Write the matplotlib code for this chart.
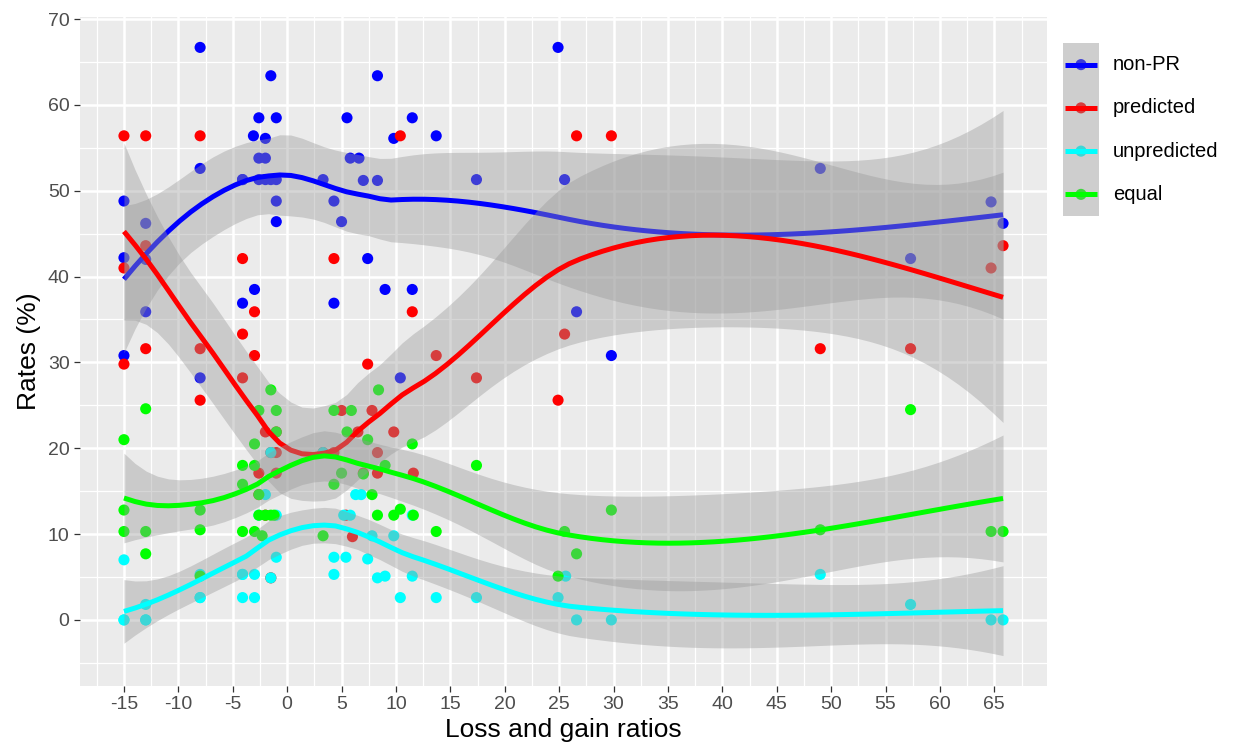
import numpy as np
import matplotlib
matplotlib.use("Agg")
import matplotlib.pyplot as plt
from matplotlib.patches import Rectangle

plt.rcParams["font.family"] = ["Liberation Sans", "DejaVu Sans"]
plt.rcParams["axes.unicode_minus"] = False

# ---------------------------------------------------------------- data
nonpr_x = [-15, -15, -15, -13, -13, -13, -8, -8, -8, -4.1, -4.1, -4.1, -3.1, -3.0,
           -2.6, -2.6, -2.6, -2.0, -2.0, -2.0, -1.5, -1.5, -1.0, -1.0, -1.0, -1.0,
           3.3, 4.3, 4.3, 5.0, 5.5, 5.8, 6.6, 7.0, 7.4, 8.3, 8.3, 9.0, 9.8,
           10.4, 11.5, 11.5, 13.7, 17.4, 24.9, 25.5, 26.6, 29.8, 49.0, 57.3,
           64.7, 65.8]
nonpr_y = [48.8, 42.2, 30.8, 46.2, 42.0, 35.9, 66.7, 52.6, 28.2, 51.3, 51.3, 36.9, 56.4, 38.5,
           58.5, 53.8, 51.3, 56.1, 53.8, 51.3, 63.4, 51.3, 58.5, 51.3, 48.8, 46.4,
           51.3, 48.8, 36.9, 46.4, 58.5, 53.8, 53.8, 51.2, 42.1, 63.4, 51.2, 38.5, 56.1,
           28.2, 58.5, 38.5, 56.4, 51.3, 66.7, 51.3, 35.9, 30.8, 52.6, 42.1,
           48.7, 46.2]

pred_x = [-15, -15, -15, -13, -13, -13, -8, -8, -8, -4.1, -4.1, -4.1,
          -3.0, -3.0, -2.6, -2.6, -2.0, -2.0, -1.5, -1.5, -1.0, -1.0, -1.0,
          3.3, 4.3, 4.3, 5.0, 5.4, 6.0, 6.5, 7.0, 7.4, 7.8,
          8.3, 8.3, 9.8, 10.4, 11.5, 11.6, 13.7, 17.4, 24.9, 25.5, 26.6, 29.8,
          49.0, 57.3, 64.7, 65.8]
pred_y = [56.4, 41.0, 29.8, 56.4, 43.6, 31.6, 56.4, 31.6, 25.6, 42.1, 33.3, 28.2,
          35.9, 30.8, 17.1, 14.6, 21.9, 12.2, 19.5, 4.9, 19.5, 17.1, 21.9,
          19.5, 42.1, 19.5, 24.4, 12.2, 9.7, 21.9, 17.1, 29.8, 24.4,
          19.5, 17.1, 21.9, 56.4, 35.9, 17.1, 30.8, 28.2, 25.6, 33.3, 56.4, 56.4,
          31.6, 31.6, 41.0, 43.6]

unpred_x = [-15, -15, -15, -13, -13, -13, -8, -8, -8, -4.1, -4.1, -4.1, -3.0, -3.0,
            -2.6, -2.0, -1.5, -1.5, -1.0, -1.0, 3.3, 4.3, 4.3, 5.2, 5.8, 5.4, 6.3,
            6.8, 7.4, 7.8, 8.3, 9.0, 9.8, 10.4, 11.5, 11.5, 13.7, 17.4, 24.9, 25.6,
            26.6, 29.8, 49.0, 57.3, 64.7, 65.8]
unpred_y = [7.0, 0.0, 0.0, 1.8, 0.0, 0.0, 2.6, 2.6, 5.3, 5.3, 5.3, 2.6, 5.3, 2.6,
            12.2, 14.6, 19.5, 4.9, 12.2, 7.3, 19.5, 7.3, 5.3, 12.2, 12.2, 7.3, 14.6,
            14.6, 7.1, 9.8, 4.9, 5.1, 9.8, 2.6, 5.1, 12.2, 2.6, 2.6, 2.6, 5.1,
            0.0, 0.0, 5.3, 1.8, 0.0, 0.0]

equal_x = [-15, -15, -15, -13, -13, -13, -8, -8, -8, -4.1, -4.1, -4.1,
           -3.0, -3.0, -3.0, -2.6, -2.6, -2.6, -2.3, -2.0, -1.5, -1.5,
           -1.0, -1.0, -1.2, 3.3, 4.3, 4.3, 5.0, 5.5, 5.9, 7.0, 7.4, 7.8,
           8.4, 8.3, 9.0, 9.8, 10.4, 11.5, 11.6, 13.7, 17.4, 24.9, 25.5, 26.6,
           29.8, 49.0, 57.3, 64.7, 65.8]
equal_y = [21.0, 12.8, 10.3, 24.6, 10.3, 7.7, 12.8, 10.5, 5.1, 18.0, 15.8, 10.3,
           20.5, 18.0, 10.3, 24.4, 14.6, 12.2, 9.8, 12.2, 26.8, 12.2,
           24.4, 21.9, 12.2, 9.8, 24.4, 15.8, 17.1, 21.9, 24.4, 17.0, 21.0, 14.6,
           26.8, 12.2, 18.0, 12.2, 12.9, 20.5, 12.2, 10.3, 18.0, 5.1, 10.3, 7.7,
           12.8, 10.5, 24.5, 10.3, 10.3]

series_names = ["non-PR", "predicted", "unpredicted", "equal"]
series_colors = ["#0000FF", "#FF0000", "#00FFFF", "#00FF00"]
series_data = [(nonpr_x, nonpr_y), (pred_x, pred_y),
               (unpred_x, unpred_y), (equal_x, equal_y)]

x_ticks = list(range(-15, 70, 5))
y_ticks = list(range(0, 80, 10))


# ---------------------------------------------------------------- loess
def local_rows(xs, x0, q):
    """Local quadratic, tricube weights: rows giving value and slope at x0."""
    d = np.abs(xs - x0)
    h = max(np.sort(d)[q - 1], 1e-12)
    w = np.clip(1.0 - (d / h) ** 3, 0.0, None) ** 3
    dx = xs - x0
    X = np.column_stack([np.ones_like(dx), dx, dx ** 2])
    XtW = X.T * w
    B = np.linalg.solve(XtW @ X, XtW)
    return B[0], B[1]


def kd_vertices(xs, fc):
    lo, hi = xs.min(), xs.max()
    mu = 0.005 * (hi - lo)
    verts = {lo - mu, hi + mu}

    def split(pts):
        if len(pts) <= fc:
            return
        s = np.sort(pts)
        m = (len(s) - 1) // 2
        while m + 1 < len(s) and s[m] == s[m + 1]:
            m += 1
        if m + 1 >= len(s):
            return
        verts.add(s[m])
        split(s[:m + 1])
        split(s[m + 1:])

    split(xs)
    return np.array(sorted(verts))


def loess_operator(xs, xe, span=0.75, cell=0.2):
    n = len(xs)
    q = int(np.floor(n * span))
    fc = int(np.floor(n * span * cell))
    verts = kd_vertices(xs, fc)
    vals, slopes = zip(*[local_rows(xs, v, q) for v in verts])
    vals, slopes = np.array(vals), np.array(slopes)
    rows = []
    for x0 in np.atleast_1d(xe):
        j = np.clip(np.searchsorted(verts, x0) - 1, 0, len(verts) - 2)
        a, b = verts[j], verts[j + 1]
        h = b - a
        t = (x0 - a) / h
        h00 = 2 * t ** 3 - 3 * t ** 2 + 1
        h10 = t ** 3 - 2 * t ** 2 + t
        h01 = -2 * t ** 3 + 3 * t ** 2
        h11 = t ** 3 - t ** 2
        rows.append(h00 * vals[j] + h10 * h * slopes[j]
                    + h01 * vals[j + 1] + h11 * h * slopes[j + 1])
    return np.array(rows)


def t_quantile_975(df):
    z = 1.959963985
    g1 = (z ** 3 + z) / 4
    g2 = (5 * z ** 5 + 16 * z ** 3 + 3 * z) / 96
    g3 = (3 * z ** 7 + 19 * z ** 5 + 17 * z ** 3 - 15 * z) / 384
    return z + g1 / df + g2 / df ** 2 + g3 / df ** 3


def smooth(x, y, npts=80):
    xs, ys = np.asarray(x, float), np.asarray(y, float)
    grid = np.linspace(xs.min(), xs.max(), npts)
    L = loess_operator(xs, xs)
    R = np.eye(len(xs)) - L
    M = R.T @ R
    one_delta = np.trace(M)
    two_delta = np.trace(M @ M)
    res = ys - L @ ys
    s = np.sqrt(np.sum(res ** 2) / one_delta)
    Lg = loess_operator(xs, grid)
    fit = Lg @ ys
    se = s * np.sqrt(np.sum(Lg ** 2, axis=1))
    tq = t_quantile_975(one_delta ** 2 / two_delta)
    return grid, fit, fit - tq * se, fit + tq * se


# ---------------------------------------------------------------- figure
W, H = 1241, 754
fig = plt.figure(figsize=(W / 100, H / 100), dpi=100)
fig.patch.set_facecolor("white")
pl, pr, pt, pb = 80, 1047, 17, 686
ax = fig.add_axes([pl / W, 1 - pb / H, (pr - pl) / W, (pb - pt) / H])
ax.set_facecolor("#EBEBEB")
for sp in ax.spines.values():
    sp.set_visible(False)

fits = [smooth(x, y) for x, y in series_data]

for (x, y), col in zip(series_data, series_colors):
    ax.scatter(x, y, s=64, color=col, edgecolors="none", zorder=2)
z = 3
for (grid, fit, lo, hi), col in zip(fits, series_colors):
    ax.fill_between(grid, lo, hi, color="#999999", alpha=0.4, lw=0, zorder=z)
    ax.plot(grid, fit, color=col, lw=3.6, solid_capstyle="butt", zorder=z + 0.5)
    z += 1

allx = np.concatenate([np.asarray(d[0], float) for d in series_data])
ally = np.concatenate([np.asarray(d[1], float) for d in series_data]
                      + [f[2] for f in fits] + [f[3] for f in fits])
xr = allx.max() - allx.min()
yr = ally.max() - ally.min()
ax.set_xlim(allx.min() - 0.05 * xr, allx.max() + 0.05 * xr)
ax.set_ylim(ally.min() - 0.05 * yr, ally.max() + 0.05 * yr)

ax.set_xticks(x_ticks)
ax.set_xticklabels([str(v) for v in x_ticks])
ax.set_yticks(y_ticks)
ax.set_yticklabels([str(v) for v in y_ticks])
ax.set_xticks([v + 2.5 for v in range(-20, 70, 5)], minor=True)
ax.set_yticks([v + 5 for v in range(-10, 70, 10)], minor=True)
ax.grid(which="major", color="white", lw=1.8, zorder=0)
ax.grid(which="minor", color="white", lw=0.9, zorder=0)
ax.set_axisbelow(True)
ax.tick_params(which="major", length=4.5, width=0.9, color="#333333",
               labelsize=14, labelcolor="#4D4D4D", pad=3)
ax.tick_params(which="minor", length=0)
ax.set_xlabel("Loss and gain ratios", fontsize=19, color="black", labelpad=3)
ax.set_ylabel("Rates (%)", fontsize=19, color="black", labelpad=5)

# legend
kl, kr, kt, kb = 1063, 1099, 43, 216
lax = fig.add_axes([kl / W, 1 - kb / H, (kr - kl) / W, (kb - kt) / H])
lax.set_xlim(0, 1)
lax.set_ylim(0, len(series_names))
lax.axis("off")
lax.add_patch(Rectangle((0, 0), 1, len(series_names), facecolor="#F2F2F2",
                        edgecolor="none", zorder=0))
for i, (name, col) in enumerate(zip(series_names, series_colors)):
    yc = len(series_names) - i - 0.5
    lax.scatter([0.5], [yc], s=64, color=col, edgecolors="none", zorder=1)
    lax.add_patch(Rectangle((0, i), 1, 1, facecolor="#999999", alpha=0.4,
                            edgecolor="none", zorder=2))
    lax.plot([0.05, 0.95], [yc, yc], color=col, lw=3.6, zorder=3,
             solid_capstyle="butt")
    lax.text(1.38, yc, name, fontsize=14.5, color="black", va="center",
             ha="left")

fig.savefig("out.png", dpi=100)
